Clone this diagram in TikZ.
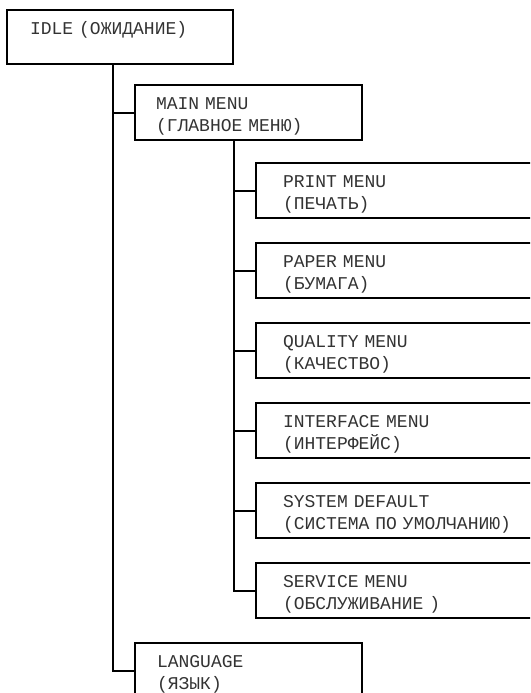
\documentclass[tikz,border=0pt]{standalone}
\usepackage{fontspec}
\newfontfamily\menufont{Liberation Mono}
\begin{document}
\begin{tikzpicture}[x=1pt, y=-1pt]
    % --- Estilos ---
    \tikzset{
        menubox/.style={draw, line width=2pt, anchor=north west, outer sep=0pt,
            inner xsep=21pt, inner ysep=0pt, text width=185pt, align=left,
            text height=24pt, text depth=31pt, text=black!80,
            font=\menufont\fontsize{18}{22}\selectfont},
        subbox/.style={menubox, inner xsep=27pt, text width=246pt},
        link/.style={line width=2pt}
    }
    \useasboundingbox (0,0) rectangle (530,693);
    \clip (0,0) rectangle (530,693);

    % --- Nivel superior ---
    \node[menubox, inner xsep=23pt, text width=180pt, text height=25pt, text depth=29pt]
        (idle) at (7,10) {IDLE (ОЖИДАНИЕ)};
    \node[menubox] (main) at (135,85) {MAIN MENU\\(ГЛАВНОЕ МЕНЮ)};
    \node[menubox, inner xsep=22pt, text width=183pt] (lang) at (135,643) {LANGUAGE\\(ЯЗЫК)};

    % --- Troncos ---
    \coordinate (trunkA) at ([xshift=106pt]idle.south west);
    \coordinate (trunkB) at ([xshift=99pt]main.south west);
    \draw[link] (trunkA) |- (main.west);
    \draw[link] (trunkA) |- (lang.west);

    % --- Submenús ---
    \foreach \y/\name/\first/\second in {
        163/print/PRINT MENU/ПЕЧАТЬ,
        243/paper/PAPER MENU/БУМАГА,
        323/quality/QUALITY MENU/КАЧЕСТВО,
        403/interface/INTERFACE MENU/ИНТЕРФЕЙС,
        483/system/SYSTEM DEFAULT/СИСТЕМА ПО УМОЛЧАНИЮ,
        563/service/SERVICE MENU/ОБСЛУЖИВАНИЕ
    } {
        \node[subbox] (\name) at (256,\y) {\first\\(\second)};
        \draw[link] (trunkB) |- (\name.west);
    }
\end{tikzpicture}
\end{document}
